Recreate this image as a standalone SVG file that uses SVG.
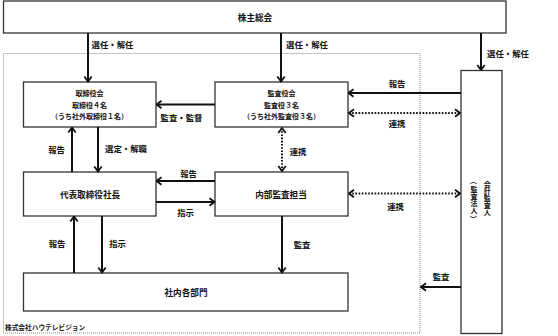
<svg xmlns="http://www.w3.org/2000/svg" width="558" height="336" viewBox="0 0 558 336">
<style>
.box{fill:#fff;stroke:#333;stroke-width:1.3}
.t{font-family:"Noto Sans CJK JP","Noto Sans",sans-serif;font-weight:700;fill:#111;text-anchor:middle;dominant-baseline:central}
.b9{font-size:8.6px}
.b7{font-size:7px}
.lb{font-size:8.4px}
.ln{fill:none;stroke:#111;stroke-width:2}
.dt{fill:none;stroke:#111;stroke-width:2;stroke-dasharray:1.6 1.6}
.v{font-family:"Noto Sans CJK JP",sans-serif;font-weight:700;fill:#111;font-size:7px}
</style>
<defs>
<marker id="arr" viewBox="0 0 10 10" refX="9" refY="5" markerWidth="10" markerHeight="10" markerUnits="userSpaceOnUse" orient="auto-start-reverse">
<path d="M4,1.3 L9,5 L4,8.7" fill="none" stroke="#111" stroke-width="1.8"/>
</marker>
</defs>
<rect width="558" height="336" fill="#fff"/>
<g id="company">
<rect x="3.5" y="53.5" width="416.5" height="279.5" fill="none" stroke="#888" stroke-width="1" stroke-dasharray="1 1"/>
<text class="t" x="5" y="327" style="font-size:6.7px;text-anchor:start">株式会社ハウテレビジョン</text>
</g>
<g id="shareholders">
<rect class="box" x="3.5" y="1" width="502.5" height="32"/>
<text class="t b9" x="255" y="17">株主総会</text>
</g>
<g id="board">
<rect class="box" x="23.5" y="82" width="132.5" height="45"/>
<text class="t b7" x="89.5" y="93">取締役会</text>
<text class="t b7" x="89.5" y="104.5">取締役４名</text>
<text class="t b7" x="89.5" y="116">（うち社外取締役１名）</text>
</g>
<g id="auditors">
<rect class="box" x="215" y="82" width="133" height="45"/>
<text class="t b7" x="281.5" y="93">監査役会</text>
<text class="t b7" x="281.5" y="104.5">監査役３名</text>
<text class="t b7" x="281.5" y="116">（うち社外監査役３名）</text>
</g>
<g id="president">
<rect class="box" x="23.5" y="172" width="132.5" height="44"/>
<text class="t b9" x="90" y="194">代表取締役社長</text>
</g>
<g id="internal-audit">
<rect class="box" x="215" y="172" width="133" height="44"/>
<text class="t b9" x="281" y="194">内部監査担当</text>
</g>
<g id="departments">
<rect class="box" x="23.5" y="273" width="324.5" height="38"/>
<text class="t b9" x="186" y="292">社内各部門</text>
</g>
<g id="accounting-auditor">
<rect class="box" x="461" y="70.5" width="41" height="263"/>
<text class="v" x="483.8 483.8 483.8 483.8 483.8" y="187.2 194.2 201.2 208.2 215.2">会計監査人</text>
<text class="v" x="471.3 470.5 470.5 470.5 470.5 471.3" y="177.5 191.7 198.7 205.7 212.7 215.5" rotate="90 0 0 0 0 90">（監査法人）</text>
</g>
<g id="connectors">
<line class="ln" x1="88" y1="33" x2="88" y2="81.5" marker-end="url(#arr)"/>
<line class="ln" x1="281" y1="33" x2="281" y2="81.5" marker-end="url(#arr)"/>
<line class="ln" x1="481" y1="33" x2="481" y2="70" marker-end="url(#arr)"/>
<line class="ln" x1="461" y1="93" x2="348.5" y2="93" marker-end="url(#arr)"/>
<line class="dt" x1="349" y1="113" x2="460" y2="113" marker-start="url(#arr)" marker-end="url(#arr)"/>
<line class="ln" x1="215" y1="104.5" x2="156.5" y2="104.5" marker-end="url(#arr)"/>
<line class="ln" x1="98" y1="127" x2="98" y2="171.5" marker-end="url(#arr)"/>
<line class="ln" x1="72" y1="172" x2="72" y2="127.5" marker-end="url(#arr)"/>
<line class="dt" x1="282" y1="128" x2="282" y2="171" marker-start="url(#arr)" marker-end="url(#arr)"/>
<line class="ln" x1="215" y1="181" x2="156.5" y2="181" marker-end="url(#arr)"/>
<line class="ln" x1="156" y1="202" x2="214.5" y2="202" marker-end="url(#arr)"/>
<line class="dt" x1="349" y1="193.5" x2="460" y2="193.5" marker-start="url(#arr)" marker-end="url(#arr)"/>
<line class="ln" x1="74" y1="273" x2="74" y2="216.5" marker-end="url(#arr)"/>
<line class="ln" x1="102" y1="216" x2="102" y2="272.5" marker-end="url(#arr)"/>
<line class="ln" x1="282" y1="216" x2="282" y2="272.5" marker-end="url(#arr)"/>
<line class="ln" x1="461" y1="287" x2="421" y2="287" marker-end="url(#arr)"/>
<text class="t lb" x="112.5" y="44">選任・解任</text>
<text class="t lb" x="307" y="44">選任・解任</text>
<text class="t lb" x="508" y="53">選任・解任</text>
<text class="t lb" x="397" y="83">報告</text>
<text class="t lb" x="397" y="123">連携</text>
<text class="t lb" x="181.5" y="117">監査・監督</text>
<text class="t lb" x="56.5" y="149">報告</text>
<text class="t lb" x="126" y="148">選定・解職</text>
<text class="t lb" x="298" y="151">連携</text>
<text class="t lb" x="188.5" y="173">報告</text>
<text class="t lb" x="185.5" y="212">指示</text>
<text class="t lb" x="395.5" y="206">連携</text>
<text class="t lb" x="57" y="243">報告</text>
<text class="t lb" x="117.5" y="243">指示</text>
<text class="t lb" x="302" y="244">監査</text>
<text class="t lb" x="441" y="276">監査</text>
</g>
</svg>
